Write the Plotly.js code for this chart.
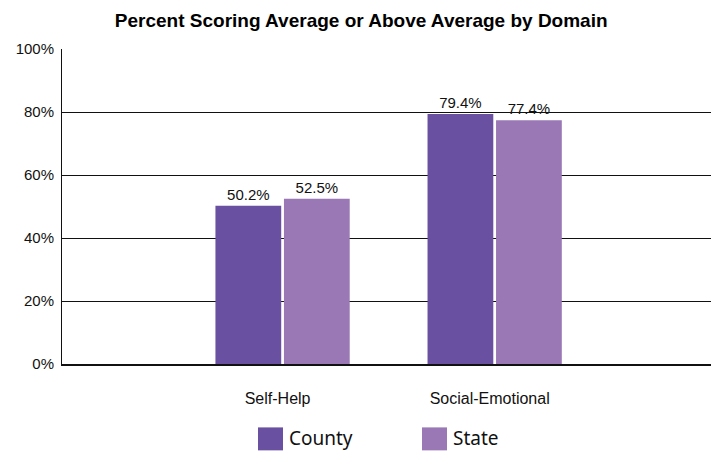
<!DOCTYPE html>
<html>
<head>
<meta charset="utf-8">
<script src="https://cdn.plot.ly/plotly-3.0.1.min.js"></script>
<style>html,body{margin:0;padding:0;background:#fff;}#chart{width:711px;height:451px;}</style>
</head>
<body>
<div id="chart"></div>
<script>
const categories = ["Self-Help", "Social-Emotional"];
const seriesNames = ["County", "State"];
const countyValues = [50.2, 79.4];
const stateValues = [52.5, 77.4];
const yTickValues = [0, 20, 40, 60, 80, 100];
const yTickLabels = ["0%", "20%", "40%", "60%", "80%", "100%"];
const colors = ["#6950a1", "#9a77b5"];

const fmt = v => v.toFixed(1) + "%";
const traces = [countyValues, stateValues].map((vals, i) => ({
  type: "bar",
  name: seriesNames[i],
  x: categories,
  y: vals,
  text: vals.map(fmt),
  textposition: "outside",
  textfont: {family: "Liberation Sans, Arial, sans-serif", size: 15, color: "#111"},
  cliponaxis: false,
  marker: {color: colors[i], line: {width: 0}},
  hoverinfo: "skip",
  showlegend: false
}));

const font = "Liberation Sans, Arial, sans-serif";
const shapes = [];
const annotations = [];
const legendX = [258, 422];
seriesNames.forEach((n, i) => {
  shapes.push({type: "rect", xref: "paper", yref: "paper",
    x0: (legendX[i] - 62) / 649, x1: (legendX[i] + 25 - 62) / 649,
    y0: (364.5 - 451) / 315.5, y1: (364.5 - 428) / 315.5,
    fillcolor: colors[i], line: {width: 0}});
  annotations.push({xref: "paper", yref: "paper",
    x: (legendX[i] + 29 - 62) / 649, y: (364.5 - 439) / 315.5,
    xanchor: "left", yanchor: "middle", showarrow: false,
    text: n, font: {family: "Noto Sans, Open Sans, sans-serif", size: 19, color: "#111"}});
});

const layout = {
  width: 711, height: 451,
  margin: {l: 62, r: 0, t: 49, b: 86.5, pad: 0},
  paper_bgcolor: "#fff", plot_bgcolor: "#fff",
  title: {text: "<b>Percent Scoring Average or Above Average by Domain</b>",
    font: {family: font, size: 19, color: "#000"}, x: 0.508, xanchor: "center", y: 0.955, yanchor: "middle"},
  barmode: "group",
  bargap: 0.354,
  bargroupgap: 0.04,
  showlegend: false,
  xaxis: {type: "category", range: [-1.04, 2.02], showgrid: false, zeroline: false,
    showline: true, linecolor: "#111", linewidth: 2,
    ticks: "", ticklabelstandoff: 19, ticklabelshift: -5,
    tickfont: {family: font, size: 16, color: "#111"}, fixedrange: true},
  yaxis: {range: [0, 100], tickvals: yTickValues, ticktext: yTickLabels,
    showgrid: true, gridcolor: "#111", gridwidth: 1, zeroline: false,
    showline: true, linecolor: "#111", linewidth: 1, ticks: "", ticklabelstandoff: 4,
    tickfont: {family: font, size: 15, color: "#111"}, fixedrange: true},
  shapes: shapes,
  annotations: annotations
};

Plotly.newPlot("chart", traces, layout, {displayModeBar: false, staticPlot: true});
</script>
</body>
</html>
